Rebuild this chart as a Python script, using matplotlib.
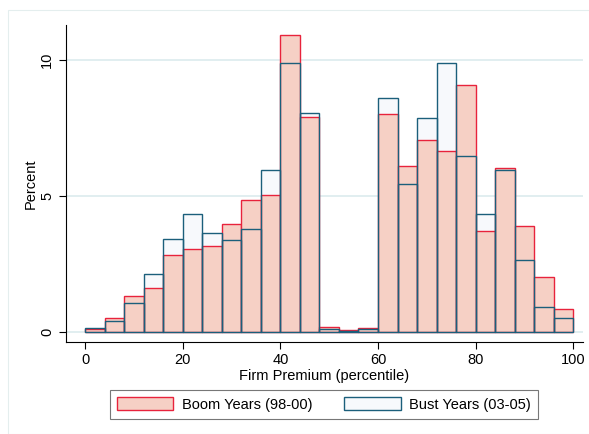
import matplotlib
matplotlib.use("Agg")
import matplotlib.pyplot as plt
from matplotlib.patches import Patch, Rectangle
import numpy as np

plt.rcParams['font.family'] = ['Liberation Sans', 'DejaVu Sans']

# bin edges of the percentile histogram (width 4)
bin_left = np.arange(0, 100, 4)
bin_width = 4

boom_pct = [0.12, 0.51, 1.33, 1.61, 2.85, 3.06, 3.16, 3.99, 4.85, 5.04,
            10.93, 7.92, 0.18, 0.10, 0.17, 8.03, 6.12, 7.06, 6.66, 9.09,
            3.71, 6.02, 3.89, 2.02, 0.87]
bust_pct = [0.17, 0.43, 1.06, 2.13, 3.44, 4.33, 3.63, 3.40, 3.78, 5.98,
            9.91, 8.06, 0.11, 0.06, 0.13, 8.62, 5.45, 7.87, 9.88, 6.49,
            4.33, 5.97, 2.65, 0.94, 0.51]

boom_fill = '#f6d0c5'
boom_edge = '#e8233c'
bust_fill = '#f7f9fc'
bust_edge = '#1b5f7b'

fig = plt.figure(figsize=(5.89, 4.34), dpi=100)

# faint outer frame of the graph region
fig.patches.append(Rectangle((8 / 589, 0), 1, 1 - 9.5 / 434, transform=fig.transFigure,
                             fill=False, edgecolor='#e4eeee', lw=0.8))

ax = fig.add_axes([0.112, 0.2127, 0.878, 0.7297])

for v in [0, 5, 10]:
    ax.axhline(v, color='#dcebee', lw=1.2, zorder=0)

ax.bar(bin_left, bust_pct, width=bin_width, align='edge', color=bust_fill,
       edgecolor='none', zorder=1)
ax.bar(bin_left, boom_pct, width=bin_width, align='edge', color=boom_fill,
       edgecolor=boom_edge, lw=1.0, zorder=2)
ax.bar(bin_left, bust_pct, width=bin_width, align='edge', fill=False,
       edgecolor=bust_edge, lw=1.0, zorder=3)

ax.set_xlim(-3.9, 102)
ax.set_ylim(-0.345, 11.29)
ax.set_xticks([0, 20, 40, 60, 80, 100])
ax.set_yticks([0, 5, 10])
ax.set_yticklabels(['0', '5', '10'], rotation=90, va='center')
ax.tick_params(labelsize=10.5, direction='out', length=5, width=0.8)
ax.set_xlabel('Firm Premium (percentile)', fontsize=10.5, labelpad=1)
ax.set_ylabel('Percent', fontsize=10.5, labelpad=2)

for s in ['top', 'right']:
    ax.spines[s].set_visible(False)
ax.spines['left'].set_linewidth(0.8)
ax.spines['bottom'].set_linewidth(0.8)

handles = [Patch(facecolor=boom_fill, edgecolor=boom_edge, lw=1.0),
           Patch(facecolor=bust_fill, edgecolor=bust_edge, lw=1.0)]
leg = fig.legend(handles, ['Boom Years (98-00)', 'Bust Years (03-05)'],
                 loc='center', bbox_to_anchor=(324 / 589, 1 - 404.5 / 434), ncol=2,
                 fontsize=10.5, frameon=True, fancybox=False,
                 handlelength=3.85, handleheight=1.0, handletextpad=0.6,
                 columnspacing=2.2, borderpad=0.5, borderaxespad=0)
leg.get_frame().set_edgecolor('#555555')
leg.get_frame().set_linewidth(0.8)

fig.savefig('out.png', dpi=100)
